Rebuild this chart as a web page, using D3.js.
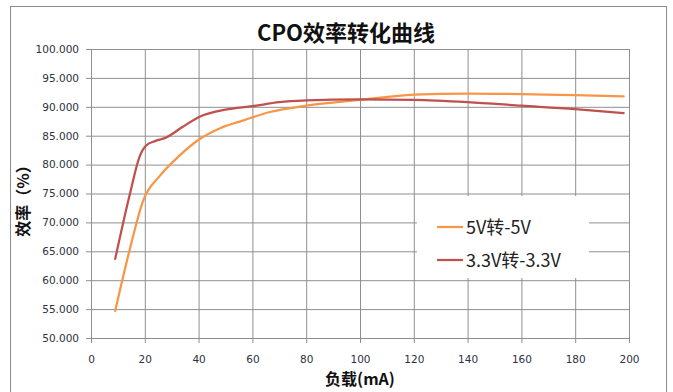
<!DOCTYPE html>
<html>
<head>
<meta charset="utf-8">
<script src="https://cdn.jsdelivr.net/npm/d3@7/dist/d3.min.js"></script>
<style>
  html, body { margin: 0; padding: 0; background: #fff; }
  svg { display: block; }
</style>
</head>
<body>
<svg id="chart" width="673" height="392"></svg>
<script>
// Efficiency curves of the CPO converter, load current (mA) vs efficiency (%)
const load5V = [9, 14.5, 19.5, 25.5, 33, 40, 48, 57, 66.5, 80, 100, 120, 140, 160, 180, 198];
const eff5V  = [54.7, 65.5, 73.9, 78.0, 81.6, 84.3, 86.3, 87.7, 89.1, 90.2, 91.2, 92.1, 92.3, 92.2, 92.0, 91.8];

const load33V = [9, 14.5, 18, 20.5, 24, 28, 34, 40, 50, 60, 70, 80, 100, 120, 140, 160, 180, 198];
const eff33V  = [63.7, 75.0, 81.3, 83.3, 84.1, 84.7, 86.5, 88.2, 89.5, 90.1, 90.8, 91.1, 91.3, 91.2, 90.8, 90.2, 89.6, 88.9];

const seriesNames = ["5V转-5V", "3.3V转-3.3V"];
const seriesColors = ["#F79646", "#C0504D"];

const xTicks = [0, 20, 40, 60, 80, 100, 120, 140, 160, 180, 200];
const yTicks = [50, 55, 60, 65, 70, 75, 80, 85, 90, 95, 100];

const chartTitle = "CPO效率转化曲线";
const xTitle = "负载(mA)";
const yTitle = "效率（%）";

const svg = d3.select("#chart");
const cjk = "'Noto Sans CJK SC', 'Liberation Sans', sans-serif";
const gridColor = "#8f8f8f";

const plot = { left: 91, right: 629, top: 49, bottom: 338 };
const x = d3.scaleLinear().domain([0, 200]).range([plot.left, plot.right]);
const y = d3.scaleLinear().domain([50, 100]).range([plot.bottom, plot.top]);

// outer chart frame
svg.append("rect")
  .attr("x", 10.5).attr("y", 6.5)
  .attr("width", 656).attr("height", 400)
  .attr("fill", "#fff").attr("stroke", "#8c8c8c").attr("stroke-width", 1);

// gridlines
const grid = svg.append("g");
grid.append("g")
  .attr("transform", `translate(0,${plot.bottom})`)
  .call(d3.axisBottom(x).tickValues(xTicks).tickSize(-(plot.bottom - plot.top)).tickFormat(""))
  .call(g => g.select(".domain").remove())
  .call(g => g.selectAll("line").attr("stroke", gridColor));
grid.append("g")
  .attr("transform", `translate(${plot.left},0)`)
  .call(d3.axisLeft(y).tickValues(yTicks).tickSize(-(plot.right - plot.left)).tickFormat(""))
  .call(g => g.select(".domain").remove())
  .call(g => g.selectAll("line").attr("stroke", gridColor));

// axes
const xAxis = svg.append("g")
  .attr("transform", `translate(0,${plot.bottom})`)
  .call(d3.axisBottom(x).tickValues(xTicks).tickSize(5).tickPadding(13).tickSizeOuter(0));
const yAxis = svg.append("g")
  .attr("transform", `translate(${plot.left},0)`)
  .call(d3.axisLeft(y).tickValues(yTicks).tickSize(5).tickPadding(7).tickSizeOuter(0).tickFormat(d3.format(".3f")));
[xAxis, yAxis].forEach(a => {
  a.select(".domain").attr("stroke", gridColor);
  a.selectAll(".tick line").attr("stroke", gridColor);
  a.selectAll(".tick text")
    .attr("fill", "#2e3140")
    .style("font-family", "'DejaVu Sans', sans-serif")
    .style("font-size", "10.5px");
});

// efficiency curves
const line = d3.line()
  .x(d => x(d[0]))
  .y(d => y(d[1]))
  .curve(d3.curveMonotoneX);

const series = [
  d3.zip(load5V, eff5V),
  d3.zip(load33V, eff33V)
];
svg.append("g").selectAll("path")
  .data(series)
  .join("path")
  .attr("d", line)
  .attr("fill", "none")
  .attr("stroke", (d, i) => seriesColors[i])
  .attr("stroke-width", 2.25)
  .attr("stroke-linejoin", "round")
  .attr("stroke-linecap", "round");

// legend
const legend = svg.append("g");
legend.append("rect")
  .attr("x", 417).attr("y", 196)
  .attr("width", 172).attr("height", 82)
  .attr("fill", "#fff");
seriesNames.forEach((name, i) => {
  const ly = 227 + i * 33;
  legend.append("line")
    .attr("x1", 437).attr("x2", 463)
    .attr("y1", ly).attr("y2", ly)
    .attr("stroke", seriesColors[i]).attr("stroke-width", 2.25);
  legend.append("text")
    .attr("x", 466).attr("y", ly + 6.5)
    .attr("fill", "#222")
    .style("font-family", cjk)
    .style("font-size", "18px")
    .text(name);
});

// titles
svg.append("text")
  .attr("x", 346).attr("y", 41)
  .attr("text-anchor", "middle")
  .style("font-family", cjk)
  .style("font-size", "22px")
  .style("font-weight", "bold")
  .attr("fill", "#111")
  .text(chartTitle);

svg.append("text")
  .attr("x", 360).attr("y", 385)
  .attr("text-anchor", "middle")
  .style("font-family", cjk)
  .style("font-size", "16px")
  .style("font-weight", "bold")
  .attr("fill", "#111")
  .text(xTitle);

svg.append("text")
  .attr("transform", "translate(29,197) rotate(-90)")
  .attr("text-anchor", "middle")
  .style("font-family", cjk)
  .style("font-size", "16px")
  .style("font-weight", "bold")
  .attr("fill", "#111")
  .text(yTitle);
</script>
</body>
</html>
